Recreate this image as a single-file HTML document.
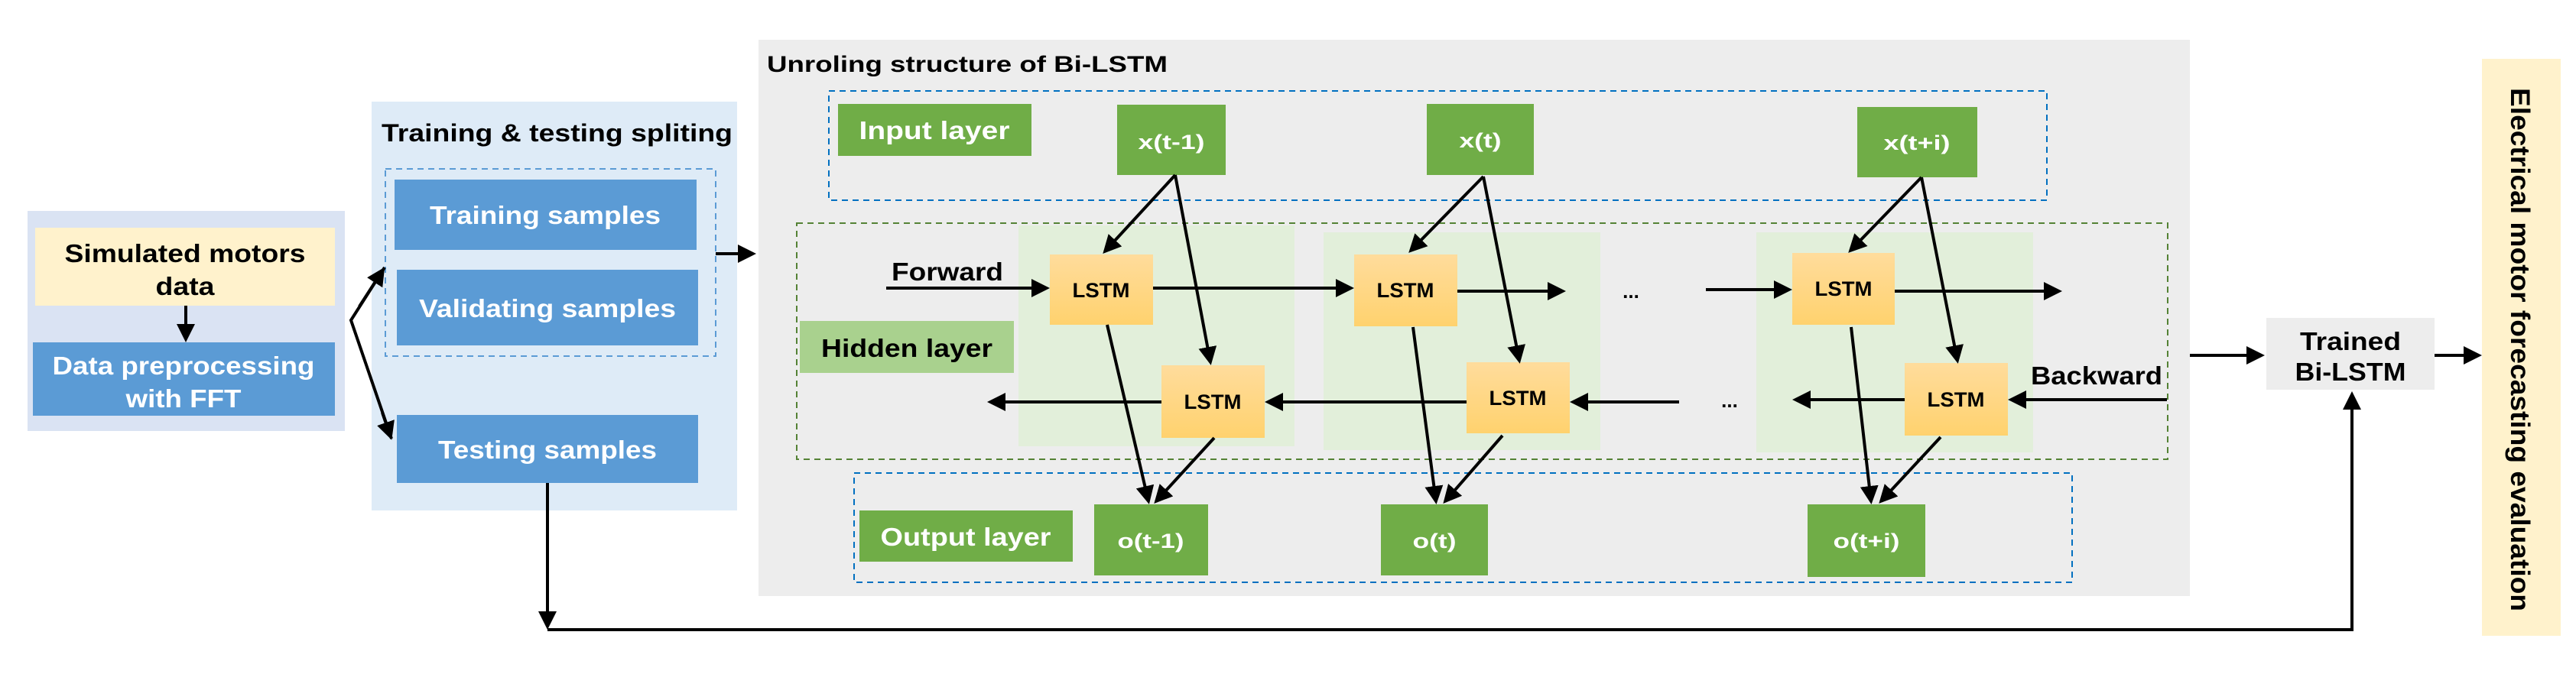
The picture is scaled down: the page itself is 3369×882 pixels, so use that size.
<!DOCTYPE html>
<html><head><meta charset="utf-8"><style>
html,body{margin:0;padding:0;background:#fff;}
svg{display:block;}
text{font-family:"Liberation Sans",sans-serif;font-weight:bold;}
</style></head><body>
<svg width="3369" height="882" viewBox="0 0 3369 882" xmlns="http://www.w3.org/2000/svg">
<defs>
<marker id="ah" markerWidth="6" markerHeight="6" refX="5" refY="3" orient="auto" markerUnits="strokeWidth">
<path d="M0,0 L6,3 L0,6 z" fill="#000"/></marker>
<linearGradient id="lg" x1="0" y1="0" x2="0" y2="1"><stop offset="0" stop-color="#FFDC9C"/><stop offset="1" stop-color="#FFD26E"/></linearGradient>
</defs>

<rect x="36" y="276" width="415" height="288" fill="#DAE3F3"/>
<rect x="46" y="298" width="392" height="102" fill="#FFF2CC"/>
<text x="242" y="343" font-size="33" text-anchor="middle" fill="#000" textLength="315" lengthAdjust="spacingAndGlyphs">Simulated motors</text>
<text x="242" y="386" font-size="33" text-anchor="middle" fill="#000" textLength="77" lengthAdjust="spacingAndGlyphs">data</text>
<line x1="243" y1="400" x2="243" y2="444" stroke="#000" stroke-width="4" marker-end="url(#ah)"/>
<rect x="43" y="448" width="395" height="96" fill="#5B9BD5"/>
<text x="240" y="490" font-size="33" text-anchor="middle" fill="#fff" textLength="343" lengthAdjust="spacingAndGlyphs">Data preprocessing</text>
<text x="240" y="533" font-size="33" text-anchor="middle" fill="#fff" textLength="151" lengthAdjust="spacingAndGlyphs">with FFT</text>

<rect x="486" y="133" width="478" height="535" fill="#DEEBF7"/>
<text x="499" y="185" font-size="32" fill="#000" textLength="459" lengthAdjust="spacingAndGlyphs">Training &amp; testing spliting</text>
<rect x="504" y="221" width="432" height="245" fill="none" stroke="#5B9BD5" stroke-width="2" stroke-dasharray="8,6"/>
<rect x="516" y="235" width="395" height="92" fill="#5B9BD5"/>
<text x="713" y="293" font-size="33" text-anchor="middle" fill="#fff" textLength="302" lengthAdjust="spacingAndGlyphs">Training samples</text>
<rect x="519" y="353" width="394" height="99" fill="#5B9BD5"/>
<text x="716" y="415" font-size="33" text-anchor="middle" fill="#fff" textLength="336" lengthAdjust="spacingAndGlyphs">Validating samples</text>
<rect x="519" y="543" width="394" height="89" fill="#5B9BD5"/>
<text x="716" y="600" font-size="33" text-anchor="middle" fill="#fff" textLength="286" lengthAdjust="spacingAndGlyphs">Testing samples</text>
<polyline points="503,350 459,419 512,574" fill="none" stroke="#000" stroke-width="4"/>
<line x1="470" y1="401" x2="501" y2="353" stroke="#000" stroke-width="4" marker-end="url(#ah)"/>
<line x1="500" y1="540" x2="511" y2="572" stroke="#000" stroke-width="4" marker-end="url(#ah)"/>
<line x1="936" y1="332" x2="985" y2="332" stroke="#000" stroke-width="4" marker-end="url(#ah)"/>

<rect x="992" y="52" width="1872" height="728" fill="#EDEDED"/>
<text x="1003" y="94" font-size="30" fill="#000" textLength="524" lengthAdjust="spacingAndGlyphs">Unroling structure of Bi-LSTM</text>
<rect x="1084" y="119" width="1593" height="143" fill="none" stroke="#0070C0" stroke-width="2" stroke-dasharray="8,6"/>
<rect x="1042" y="292" width="1793" height="309" fill="none" stroke="#548235" stroke-width="2" stroke-dasharray="8,6"/>
<rect x="1117" y="619" width="1593" height="143" fill="none" stroke="#0070C0" stroke-width="2" stroke-dasharray="8,6"/>

<rect x="1332" y="295" width="361" height="289" fill="#E2EFDA"/>
<rect x="1731" y="304" width="362" height="285" fill="#E2EFDA"/>
<rect x="2297" y="304" width="362" height="288" fill="#E2EFDA"/>

<rect x="1096" y="136" width="253" height="68" fill="#70AD47"/>
<text x="1222" y="182" font-size="33" text-anchor="middle" fill="#fff" textLength="197" lengthAdjust="spacingAndGlyphs">Input layer</text>
<rect x="1046" y="420" width="280" height="68" fill="#A9D18E"/>
<text x="1186" y="467" font-size="33" text-anchor="middle" fill="#000" textLength="224" lengthAdjust="spacingAndGlyphs">Hidden layer</text>
<rect x="1124" y="668" width="279" height="67" fill="#70AD47"/>
<text x="1263" y="714" font-size="33" text-anchor="middle" fill="#fff" textLength="223" lengthAdjust="spacingAndGlyphs">Output layer</text>

<g font-size="27" fill="#fff" text-anchor="middle">
<rect x="1461" y="137" width="142" height="92" fill="#70AD47"/><text x="1532" y="195" textLength="87" lengthAdjust="spacingAndGlyphs">x(t-1)</text>
<rect x="1866" y="136" width="140" height="93" fill="#70AD47"/><text x="1936" y="193" textLength="55" lengthAdjust="spacingAndGlyphs">x(t)</text>
<rect x="2429" y="140" width="157" height="92" fill="#70AD47"/><text x="2507" y="196" textLength="87" lengthAdjust="spacingAndGlyphs">x(t+i)</text>
<rect x="1431" y="660" width="149" height="93" fill="#70AD47"/><text x="1505" y="717" textLength="87" lengthAdjust="spacingAndGlyphs">o(t-1)</text>
<rect x="1806" y="660" width="140" height="93" fill="#70AD47"/><text x="1876" y="717" textLength="57" lengthAdjust="spacingAndGlyphs">o(t)</text>
<rect x="2364" y="660" width="154" height="95" fill="#70AD47"/><text x="2441" y="717" textLength="87" lengthAdjust="spacingAndGlyphs">o(t+i)</text>
</g>

<g font-size="27" fill="#000" text-anchor="middle">
<rect x="1373" y="333" width="135" height="92" fill="url(#lg)"/><text x="1440" y="389" textLength="75" lengthAdjust="spacingAndGlyphs">LSTM</text>
<rect x="1519" y="478" width="135" height="95" fill="url(#lg)"/><text x="1586" y="535" textLength="75" lengthAdjust="spacingAndGlyphs">LSTM</text>
<rect x="1771" y="333" width="135" height="94" fill="url(#lg)"/><text x="1838" y="389" textLength="75" lengthAdjust="spacingAndGlyphs">LSTM</text>
<rect x="1918" y="474" width="135" height="93" fill="url(#lg)"/><text x="1985" y="530" textLength="75" lengthAdjust="spacingAndGlyphs">LSTM</text>
<rect x="2344" y="331" width="134" height="94" fill="url(#lg)"/><text x="2411" y="387" textLength="75" lengthAdjust="spacingAndGlyphs">LSTM</text>
<rect x="2491" y="475" width="135" height="95" fill="url(#lg)"/><text x="2558" y="532" textLength="75" lengthAdjust="spacingAndGlyphs">LSTM</text>
</g>

<text x="1166" y="367" font-size="33" fill="#000" textLength="146" lengthAdjust="spacingAndGlyphs">Forward</text>
<text x="2656" y="503" font-size="33" fill="#000" textLength="172" lengthAdjust="spacingAndGlyphs">Backward</text>
<text x="2133" y="390" font-size="26" fill="#000" text-anchor="middle">...</text>
<text x="2262" y="533" font-size="26" fill="#000" text-anchor="middle">...</text>

<g stroke="#000" stroke-width="4" fill="none" marker-end="url(#ah)">
<line x1="1159" y1="377" x2="1369" y2="377"/>
<line x1="1508" y1="377" x2="1767" y2="377"/>
<line x1="1906" y1="381" x2="2044" y2="381"/>
<line x1="2231" y1="379" x2="2340" y2="379"/>
<line x1="2478" y1="381" x2="2693" y2="381"/>
<line x1="2834" y1="523" x2="2630" y2="523"/>
<line x1="2491" y1="523" x2="2348" y2="523"/>
<line x1="2196" y1="526" x2="2057" y2="526"/>
<line x1="1918" y1="526" x2="1658" y2="526"/>
<line x1="1519" y1="526" x2="1295" y2="526"/>
<line x1="1537" y1="229" x2="1445" y2="329"/>
<line x1="1537" y1="229" x2="1583" y2="474"/>
<line x1="1448" y1="425" x2="1502" y2="656"/>
<line x1="1588" y1="573" x2="1512" y2="656"/>
<line x1="1940" y1="231" x2="1845" y2="328"/>
<line x1="1940" y1="231" x2="1987" y2="472"/>
<line x1="1848" y1="428" x2="1878" y2="656"/>
<line x1="1965" y1="570" x2="1890" y2="656"/>
<line x1="2513" y1="232" x2="2420" y2="328"/>
<line x1="2513" y1="232" x2="2560" y2="472"/>
<line x1="2421" y1="428" x2="2447" y2="656"/>
<line x1="2538" y1="572" x2="2460" y2="656"/>
<line x1="2864" y1="465" x2="2958" y2="465"/>
<line x1="3184" y1="465" x2="3242" y2="465"/>
<polyline points="716,632 716,820"/>
<polyline points="716,824 3076,824 3076,516"/>
</g>

<rect x="2964" y="416" width="220" height="94" fill="#EDEDED"/>
<text x="3074" y="458" font-size="33" text-anchor="middle" fill="#000" textLength="132" lengthAdjust="spacingAndGlyphs">Trained</text>
<text x="3074" y="498" font-size="33" text-anchor="middle" fill="#000" textLength="145" lengthAdjust="spacingAndGlyphs">Bi-LSTM</text>

<rect x="3246" y="77" width="103" height="755" fill="#FFF2CC"/>
<text transform="translate(3284,115) rotate(90)" font-size="35" fill="#000" textLength="685" lengthAdjust="spacingAndGlyphs">Electrical motor forecasting evaluation</text>
</svg>
</body></html>
